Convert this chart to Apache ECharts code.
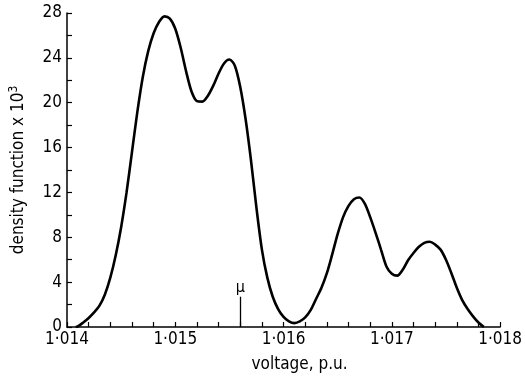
<!DOCTYPE html>
<html>
<head>
<meta charset="utf-8">
<script src="https://cdn.jsdelivr.net/npm/echarts@6/dist/echarts.min.js"></script>
<style>html,body{margin:0;padding:0;background:#fff}#c{width:525px;height:378px}</style>
</head>
<body>
<div id="c"></div>
<script>
const voltage = [1.01408,1.0141,1.01415,1.0142,1.01425,1.0143,1.01435,1.0144,1.01445,1.0145,1.01455,1.0146,1.01465,1.0147,1.01475,1.0148,1.01485,1.0149,1.01495,1.015,1.01505,1.0151,1.01515,1.0152,1.01525,1.0153,1.01535,1.0154,1.01545,1.0155,1.01555,1.0156,1.01565,1.0157,1.01575,1.0158,1.01585,1.0159,1.01595,1.016,1.01605,1.0161,1.01615,1.0162,1.01625,1.0163,1.01635,1.0164,1.01645,1.0165,1.01655,1.0166,1.01665,1.0167,1.01675,1.0168,1.01685,1.0169,1.01695,1.017,1.01705,1.0171,1.01715,1.0172,1.01725,1.0173,1.01735,1.0174,1.01745,1.0175,1.01755,1.0176,1.01765,1.0177,1.01775,1.0178,1.01785];
const density = [0,0.05,0.4,0.8,1.3,1.9,2.9,4.4,6.4,8.9,12.0,15.6,19.2,22.3,24.6,26.2,27.2,27.7,27.5,26.6,24.9,22.8,21.0,20.15,20.1,20.6,21.5,22.6,23.5,23.85,23.3,21.4,18.5,14.8,10.6,6.9,4.4,2.7,1.6,0.9,0.5,0.35,0.5,0.85,1.5,2.5,3.5,4.8,6.5,8.3,9.8,10.8,11.4,11.55,11.0,9.8,8.4,6.9,5.4,4.75,4.58,5.1,5.95,6.6,7.15,7.5,7.6,7.35,6.9,6.0,4.8,3.5,2.4,1.6,0.95,0.4,0];
const muValue = 1.0156;
const muHeight = 2.7;
const xTicks = [1.014,1.015,1.016,1.017,1.018];
const yTicks = [0,4,8,12,16,20,24,28];

const chart = echarts.init(document.getElementById('c'), null, {renderer:'canvas'});
const fontFam = "'Liberation Sans Narrow','DejaVu Sans Condensed','DejaVu Sans',sans-serif";
chart.setOption({
  animation:false,
  grid:{left:66.5,right:18.3,top:13,bottom:51},
  xAxis:{
    type:'value', min:xTicks[0], max:xTicks[xTicks.length-1], interval:0.001,
    name:'voltage, p.u.', nameLocation:'middle', nameGap:29,
    nameTextStyle:{color:'#000',fontSize:17,fontFamily:fontFam,padding:[0,0,0,32]},
    axisLine:{lineStyle:{color:'#000',width:1.5}},
    axisTick:{inside:true,length:5,lineStyle:{color:'#000',width:1.2}},
    minorTick:{show:true,splitNumber:5,length:5,lineStyle:{color:'#000',width:1.2}},
    splitLine:{show:false},
    axisLabel:{color:'#000',fontSize:17,fontFamily:fontFam,margin:4,
      formatter:v=>v.toFixed(3).replace('.','·')}
  },
  yAxis:{
    type:'value', min:0, max:yTicks[yTicks.length-1], interval:4,
    name:'density function x 10{sup|3}', nameLocation:'middle', nameGap:38,
    nameTextStyle:{color:'#000',fontSize:17,fontFamily:fontFam,
      rich:{sup:{fontSize:12,verticalAlign:'top',padding:[0,0,9,0],fontFamily:fontFam,color:'#000'}}},
    axisLine:{show:true,lineStyle:{color:'#000',width:1.5}},
    axisTick:{show:true,inside:true,length:5,lineStyle:{color:'#000',width:1.2}},
    minorTick:{show:true,splitNumber:2,length:5,lineStyle:{color:'#000',width:1.2}},
    splitLine:{show:false},
    axisLabel:{color:'#000',fontSize:17,fontFamily:fontFam,margin:5}
  },
  series:[{
    type:'line', smooth:0.3, symbol:'none',
    data:voltage.map((v,i)=>[v,density[i]]),
    lineStyle:{color:'#000',width:2.6},
    markLine:{
      silent:true, symbol:['none','none'],
      lineStyle:{color:'#000',width:1.3,type:'solid'},
      label:{show:true,position:'end',formatter:'μ',color:'#000',fontSize:16,fontFamily:fontFam,distance:1},
      data:[[{coord:[muValue,0]},{coord:[muValue,muHeight]}]]
    }
  }]
});
</script>
</body>
</html>
